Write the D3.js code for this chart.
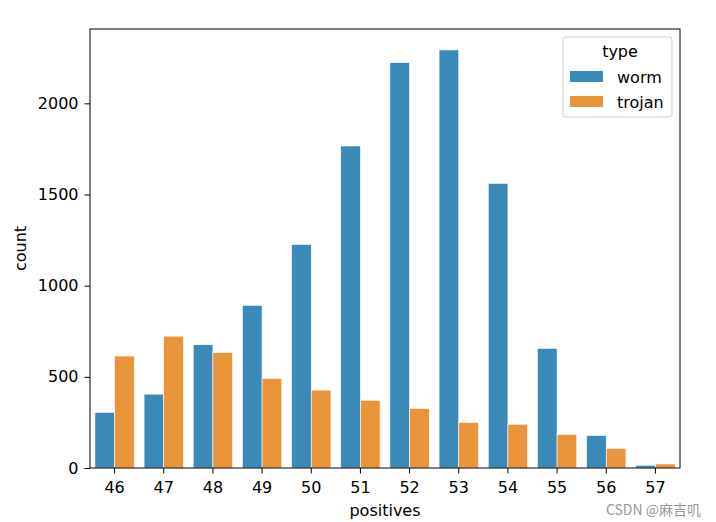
<!DOCTYPE html>
<html><head><meta charset="utf-8">
<script src="https://cdn.jsdelivr.net/npm/d3@7"></script>
<style>body{margin:0;background:#fff}svg{display:block}text{font-family:"DejaVu Sans",sans-serif}</style>
</head><body>
<script>
const categories = ["46","47","48","49","50","51","52","53","54","55","56","57"];
const seriesNames = ["worm","trojan"];
const worm   = [305, 405, 676, 892, 1226, 1766, 2223, 2293, 1561, 656, 178, 15];
const trojan = [614, 723, 633, 491, 427, 371, 326, 250, 240, 184, 107, 22];
const yTicks = [0, 500, 1000, 1500, 2000];
const colors = {worm: "#3b89b6", trojan: "#e8943a"};

const W = 716, H = 522;
const m = {left: 90, right: 36, top: 29, bottom: 54};
const FS = "16px";
const svg = d3.select("body").append("svg").attr("width", W).attr("height", H);
const iw = W - m.left - m.right, ih = H - m.top - m.bottom;
const g = svg.append("g").attr("transform", `translate(${m.left},${m.top})`);

const x = d3.scaleBand().domain(categories).range([0, iw]).paddingInner(0.2).paddingOuter(0.1);
const xs = d3.scaleBand().domain(seriesNames).range([0, x.bandwidth()]);
const ymax = d3.max(worm.concat(trojan)) * 1.05;
const y = d3.scaleLinear().domain([0, ymax]).range([ih, 0]);

const data = {worm, trojan};
seriesNames.forEach(s => {
  g.selectAll(null).data(categories).enter().append("rect")
    .attr("x", c => x(c) + xs(s))
    .attr("width", xs.bandwidth())
    .attr("y", (c, i) => y(data[s][i]))
    .attr("height", (c, i) => y(0) - y(data[s][i]))
    .attr("fill", colors[s])
    .attr("stroke", "#fff").attr("stroke-width", 0.6);
});

const xa = g.append("g").attr("transform", `translate(0,${ih})`)
  .call(d3.axisBottom(x).tickSize(5.5).tickPadding(8));
const ya = g.append("g").call(d3.axisLeft(y).tickValues(yTicks).tickFormat(d3.format("d")).tickSize(5.5).tickPadding(6));
[xa, ya].forEach(a => {
  a.select(".domain").remove();
  a.selectAll("text").attr("font-size", FS).attr("fill", "#000").style("font-family", "DejaVu Sans");
  a.selectAll("line").attr("stroke", "#000").attr("stroke-width", 1);
});
g.append("rect").attr("x", 0).attr("y", 0).attr("width", iw).attr("height", ih)
  .attr("fill", "none").attr("stroke", "#000").attr("stroke-width", 1);

g.append("text").attr("x", iw / 2).attr("y", ih + 48).attr("text-anchor", "middle")
  .attr("font-size", FS).text("positives");
g.append("text").attr("transform", `translate(${-64},${ih / 2}) rotate(-90)`)
  .attr("text-anchor", "middle").attr("font-size", FS).text("count");

// legend
const lg = g.append("g").attr("transform", `translate(${iw - 117},${8})`);
lg.append("rect").attr("width", 109).attr("height", 80).attr("rx", 3)
  .attr("fill", "#fff").attr("fill-opacity", 0.8).attr("stroke", "#ccc");
lg.append("text").attr("x", 57).attr("y", 20).attr("text-anchor", "middle")
  .attr("font-size", FS).text("type");
seriesNames.forEach((s, i) => {
  lg.append("rect").attr("x", 7).attr("y", 34 + i * 25).attr("width", 33).attr("height", 11)
    .attr("fill", colors[s]);
  lg.append("text").attr("x", 54).attr("y", 46 + i * 25).attr("font-size", FS).text(s);
});

svg.append("text").attr("x", 701).attr("y", 515).attr("text-anchor", "end")
  .attr("font-size", "14px").attr("fill", "#999").style("font-family", "Noto Sans CJK SC")
  .text("CSDN @麻吉叽");
</script>
</body></html>
